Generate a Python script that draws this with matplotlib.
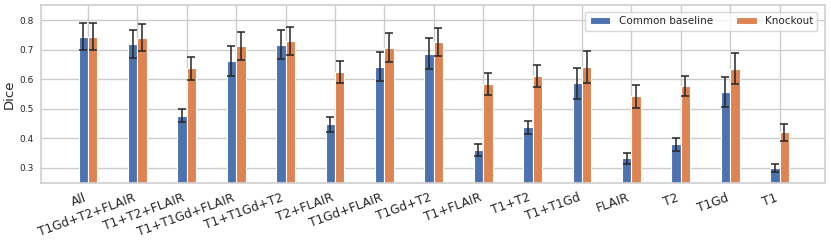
import numpy as np
import matplotlib.pyplot as plt
import seaborn as sns

sns.set_theme(style="whitegrid")
plt.rcParams["font.family"] = ["DejaVu Sans"]

modalities = ["All", "T1Gd+T2+FLAIR", "T1+T2+FLAIR", "T1+T1Gd+FLAIR", "T1+T1Gd+T2",
              "T2+FLAIR", "T1Gd+FLAIR", "T1Gd+T2", "T1+FLAIR", "T1+T2",
              "T1+T1Gd", "FLAIR", "T2", "T1Gd", "T1"]
baseline_mean = [0.744, 0.720, 0.476, 0.661, 0.717, 0.447, 0.643, 0.686, 0.361, 0.438,
                 0.586, 0.332, 0.381, 0.558, 0.300]
baseline_err = [0.046, 0.048, 0.022, 0.050, 0.048, 0.025, 0.049, 0.052, 0.020, 0.022,
                0.052, 0.019, 0.022, 0.051, 0.015]
knockout_mean = [0.744, 0.741, 0.637, 0.712, 0.730, 0.625, 0.707, 0.725, 0.584, 0.610,
                 0.641, 0.542, 0.577, 0.636, 0.421]
knockout_err = [0.046, 0.046, 0.038, 0.047, 0.048, 0.038, 0.049, 0.048, 0.038, 0.037,
                0.053, 0.038, 0.035, 0.052, 0.029]

x = np.arange(len(modalities))
w = 0.19

fig = plt.figure(figsize=(8.31, 2.43), dpi=100)
ax = fig.add_axes([0.0493, 0.248, 0.9435, 0.73])

err_kw = dict(ecolor="#262626", elinewidth=1.1, capsize=3, capthick=1.1)
ax.bar(x - w / 2, baseline_mean, w, yerr=baseline_err, color="#4c72b0",
       edgecolor="white", linewidth=0.8, label="Common baseline", error_kw=err_kw)
ax.bar(x + w / 2, knockout_mean, w, yerr=knockout_err, color="#dd8452",
       edgecolor="white", linewidth=0.8, label="Knockout", error_kw=err_kw)

ax.set_xlim(-0.95, 14.92)
ax.set_ylim(0.25, 0.85)
ax.set_yticks([0.3, 0.4, 0.5, 0.6, 0.7, 0.8])
ax.set_xticks(x)
ax.set_xticklabels(modalities, rotation=20, ha="right", fontsize=8.8)
ax.tick_params(axis="y", labelsize=6.5, length=0, pad=5)
ax.tick_params(axis="x", length=0, pad=6)
ax.set_ylabel("Dice", fontsize=9.5, labelpad=3)
for s in ax.spines.values():
    s.set_color("#d0d0d0")

ax.legend(loc="upper right", ncol=2, fontsize=7.5, frameon=True,
          bbox_to_anchor=(0.997, 0.99), handlelength=2.0, columnspacing=2.2,
          borderpad=0.4)

fig.savefig("out.png", dpi=100)
